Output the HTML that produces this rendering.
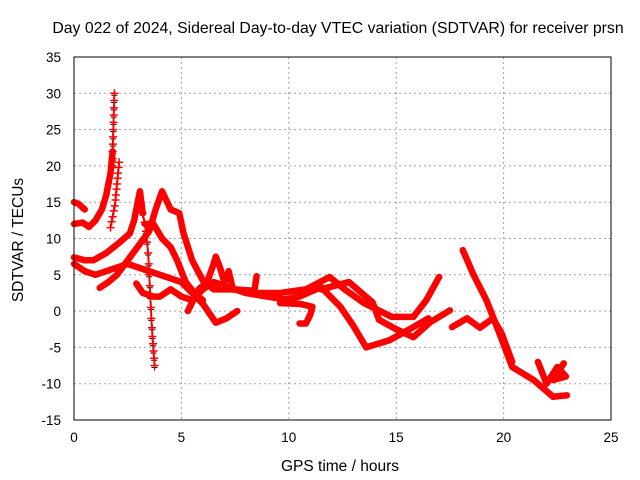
<!DOCTYPE html>
<html><head><meta charset="utf-8"><style>
body{margin:0;background:#fff}
svg{display:block;font-family:"Liberation Sans",sans-serif}
</style></head><body>
<svg id="c" width="640" height="480">
<rect width="640" height="480" fill="#fff"/>
<text x="338" y="33" text-anchor="middle" font-size="15.8">Day 022 of 2024, Sidereal Day-to-day VTEC variation (SDTVAR) for receiver prsn</text>
<text x="340" y="471" text-anchor="middle" font-size="15.5">GPS time / hours</text>
<text transform="translate(23,240) rotate(-90)" text-anchor="middle" font-size="15.5">SDTVAR / TECUs</text>
<g id="grid"></g><g id="ticks"></g><g id="marks"></g>
<rect x="74" y="57" width="537" height="363" fill="none" stroke="#000"/>
</svg>
<script>
const xTicks=[0,5,10,15,20,25];
const yTicks=[-15,-10,-5,0,5,10,15,20,25,30,35];
const track1=[[0,12],[0.4,12.2],[0.7,11.6],[1,12.5],[1.3,14],[1.5,16],[1.7,19],[1.8,22]];
const track2=[[0,15],[0.2,14.8],[0.5,14]];
const track4=[[0,7.4],[0.5,7],[0.9,7],[1.5,8],[2.1,9.4],[2.6,10.7],[2.8,12.5],[3.07,16.5],[3.2,13.5]];
const track5=[[0,6.5],[0.5,5.5],[1,5],[1.5,5.5],[2,6],[2.5,6.5],[3,6],[3.5,5.5],[4,5],[4.5,4.5],[5,4],[5.5,2.5],[6,1],[6.6,-1.6],[7.1,-1],[7.6,0]];
const track6=[[1.2,3.2],[1.6,4],[2,5],[2.5,7],[3,9],[3.5,11],[3.8,14],[4.1,16.5],[4.5,14],[4.9,13.5],[5.1,10.7],[5.5,7],[6,4.2],[6.5,3],[7,3],[7.5,3],[8,2.5],[9,2]];
const track7=[[2.9,3.8],[3.2,2.5],[3.7,2],[4,2],[4.5,3],[5,2],[5.5,1.5],[6,3],[6.5,4],[7,3.5],[7.5,3],[8,2.5],[9,2],[10,1.5]];
const track8=[[3.3,12],[3.7,12],[4.1,10],[4.5,8.8],[4.8,7],[5.2,4],[5.6,2.5],[6,1.5]];
const track9=[[5.3,0],[5.8,3],[6.2,4],[6.5,6.5],[6.6,7.5],[6.8,6],[7,4],[7.2,5.5],[7.4,3],[8.4,2.8],[8.5,4.8]];
const trackM1=[[8.6,2.5],[9.6,2.5],[10.8,3],[11.9,4.7],[12.6,3],[13.5,1.1],[14.8,-0.8],[15.8,-0.8],[16.4,1.5],[17,4.7]];
const trackM2=[[11.5,3],[12.8,4],[13.9,1.2],[14.2,-1.2],[15,-2.5],[15.8,-3.6],[16.6,-1.5],[17.5,0.1]];
const trackM3=[[9.6,1.5],[10.5,2],[11.5,3.3],[12.4,0.6],[13,-2],[13.6,-5],[14.7,-4],[15.8,-2.2],[16.5,-1]];
const trackM4=[[9.6,1.1],[10.5,1],[11.1,0.6],[11,-0.5],[10.8,-1.7],[10.5,-1.7]];
const trackR1=[[18.1,8.4],[18.6,5],[19.2,1.5],[19.8,-3],[20.4,-7.7],[21.4,-9.5],[22.3,-11.8],[22.95,-11.6]];
const trackR2=[[17.6,-2.2],[18.3,-1],[18.9,-2.3],[19.5,-1],[19.9,-3],[20.4,-7]];
const trackR3=[[21.6,-7],[22,-10],[22.5,-7.7],[22.9,-9],[22.3,-9.5],[22.8,-7.2]];
const spikeA=[[1.78,20],[1.8,21],[1.8,22],[1.81,23],[1.82,24],[1.83,25],[1.84,26],[1.85,27],[1.86,28],[1.87,29],[1.88,30]];
const spikeB=[[1.7,11.5],[1.75,12.3],[1.8,13],[1.85,13.8],[1.9,14.5],[1.93,15.3],[1.95,16],[1.98,16.8],[2.0,17.5],[2.03,18.3],[2.05,19],[2.08,19.8],[2.1,20.5]];
const spikeC=[[3.2,13.5],[3.28,12.2],[3.35,11],[3.4,9.5],[3.45,8],[3.48,6.5],[3.5,5],[3.53,3.5],[3.55,2],[3.58,0.5],[3.6,-1],[3.63,-2.3],[3.65,-3.5],[3.68,-4.5],[3.7,-5.5],[3.73,-6.5],[3.75,-7.5]];
const tracks=[track1,track2,track4,track5,track6,track7,track8,track9,trackM1,trackM2,trackM3,trackM4,trackR1,trackR2,trackR3];
const spikes=[spikeA,spikeB,spikeC];
const NS="http://www.w3.org/2000/svg";
const X=h=>74+h*(537/25), Y=v=>420-(v+15)*(363/50);
function mk(t,p){const e=document.createElementNS(NS,t);for(const k in p)if(k!=='parent')e.setAttribute(k,p[k]);p.parent.appendChild(e);return e;}
const G=document.getElementById('grid'),T=document.getElementById('ticks'),M=document.getElementById('marks');
xTicks.forEach(t=>{
 if(t>0&&t<25){const l=mk('line',{parent:G,x1:X(t),x2:X(t),y1:57,y2:420,stroke:'#a0a0a0','stroke-dasharray':'2,3'});
 }
 const s=mk('text',{parent:T,x:X(t),y:442,'text-anchor':'middle','font-size':13.5});s.textContent=t;
 
});
yTicks.forEach(t=>{
 if(t>-15&&t<35){const l=mk('line',{parent:G,x1:74,x2:611,y1:Y(t),y2:Y(t),stroke:'#a0a0a0','stroke-dasharray':'2,3'});
 }
 const s=mk('text',{parent:T,x:61,y:Y(t)+5,'text-anchor':'end','font-size':13.5});s.textContent=t;
 
});
[spikeA,spikeC].forEach(sp=>sp.forEach(p=>{
 const e=mk('path',{parent:M,d:`M${X(p[0])-3},${Y(p[1])+2}h6M${X(p[0])},${Y(p[1])-1}v6`,stroke:'#000','stroke-width':1});
 
}));
tracks.forEach(tr=>{
 const e=mk('polyline',{parent:M,points:tr.map(p=>X(p[0])+','+Y(p[1])).join(' '),fill:'none',stroke:'#f00','stroke-width':6.5,'stroke-linejoin':'round','stroke-linecap':'round'});
 
});
spikes.forEach(sp=>{
 const e=mk('polyline',{parent:M,points:sp.map(p=>X(p[0])+','+Y(p[1])).join(' '),fill:'none',stroke:'#f00','stroke-width':2});
 
 sp.forEach(p=>{const m=mk('path',{parent:M,d:`M${X(p[0])-4},${Y(p[1])}h8M${X(p[0])},${Y(p[1])-4}v8`,stroke:'#f00','stroke-width':1.5});
 });
});
</script>
</body></html>
